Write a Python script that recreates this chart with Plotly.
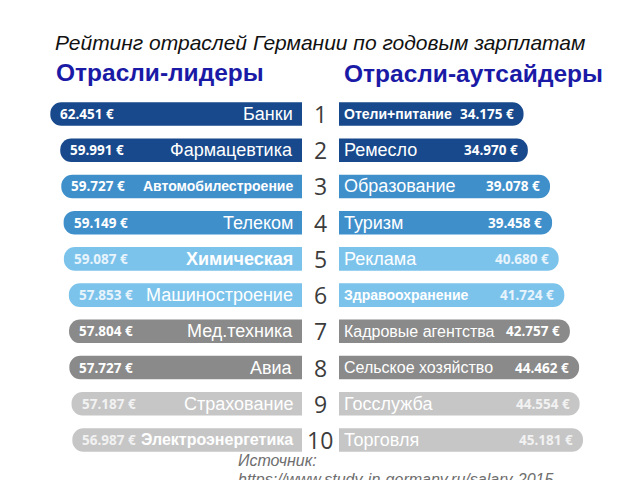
import plotly.graph_objects as go

# ---------------- data ----------------
ranks = ["1", "2", "3", "4", "5", "6", "7", "8", "9", "10"]
leader_names = ["Банки", "Фармацевтика", "Автомобилестроение", "Телеком", "Химическая",
                "Машиностроение", "Мед.техника", "Авиа", "Страхование", "Электроэнергетика"]
leader_values = [62451, 59991, 59727, 59149, 59087, 57853, 57804, 57727, 57187, 56987]
outsider_names = ["Отели+питание", "Ремесло", "Образование", "Туризм", "Реклама",
                  "Здравоохранение", "Кадровые агентства", "Сельское хозяйство", "Госслужба", "Торговля"]
outsider_values = [34175, 34970, 39078, 39458, 40680, 41724, 42757, 44462, 44554, 45181]

title_text = "Рейтинг отраслей Германии по годовым зарплатам"
left_header = "Отрасли-лидеры"
right_header = "Отрасли-аутсайдеры"
source_lines = ["Источник:", "https://www.study-in-germany.ru/salary-2015"]

# ---------------- styles ----------------
row_colors = ["#17498c", "#17498c", "#3f8fcb", "#3f8fcb", "#7cc3ec",
              "#7cc3ec", "#8a8a8a", "#8a8a8a", "#c6c6c6", "#c6c6c6"]
value_colors = ["white"] * 4 + ["#e8f4fc"] * 2 + ["white"] * 2 + ["#f2f2f2"] * 2
left_bold = [False, False, True, False, True, False, False, False, False, True]
left_size = [18, 18, 14, 18, 18, 18, 18, 18, 18, 16]
right_bold = [True, False, False, False, False, True, False, False, False, False]
right_size = [14, 18, 18, 18, 18, 14, 16, 16, 18, 18]

W, H = 640, 480
left_zero_px = 302
left_scale = 0.00403     # px per euro
right_zero_px = 339
right_scale = 0.0054

fmt = lambda v: f"{v:,}".replace(",", ".") + " €"

fig = go.Figure()
fig.add_trace(go.Bar(
    y=ranks, x=leader_values, orientation="h", xaxis="x", yaxis="y",
    marker=dict(color=row_colors, line=dict(width=0)), hoverinfo="skip", showlegend=False))
fig.add_trace(go.Bar(
    y=ranks, x=outsider_values, orientation="h", xaxis="x2", yaxis="y",
    marker=dict(color=row_colors, line=dict(width=0)), hoverinfo="skip", showlegend=False))

ann = []
for i, r in enumerate(ranks):
    # category axis: annotation positions are given as the category index
    ann.append(dict(x=leader_values[i], y=i, xref="x", yref="y", text=fmt(leader_values[i]),
                    xanchor="left", yanchor="middle", xshift=8, showarrow=False,
                    font=dict(family="Open Sans", size=13.5, color=value_colors[i], weight="bold")))
    ann.append(dict(x=0, y=i, xref="x", yref="y", text=leader_names[i],
                    xanchor="right", yanchor="middle", xshift=-7, showarrow=False,
                    font=dict(family="Liberation Sans", size=left_size[i], color="white",
                              weight="bold" if left_bold[i] else "normal")))
    ann.append(dict(x=0, y=i, xref="x2", yref="y", text=outsider_names[i],
                    xanchor="left", yanchor="middle", xshift=3, showarrow=False,
                    font=dict(family="Liberation Sans", size=right_size[i], color="white",
                              weight="bold" if right_bold[i] else "normal")))
    ann.append(dict(x=outsider_values[i], y=i, xref="x2", yref="y", text=fmt(outsider_values[i]),
                    xanchor="right", yanchor="middle", xshift=-8, showarrow=False,
                    font=dict(family="Open Sans", size=13.5, color=value_colors[i], weight="bold")))
    ann.append(dict(x=320 / W, y=i, xref="paper", yref="y", text=r,
                    xanchor="center", yanchor="middle", showarrow=False,
                    font=dict(family="Open Sans", size=23, color="#3c3c3c")))

ann.append(dict(x=320 / W, y=1 - 42 / H, xref="paper", yref="paper", text=title_text,
                xanchor="center", yanchor="middle", showarrow=False,
                font=dict(family="Liberation Sans", size=21, color="#111111", style="italic")))
ann.append(dict(x=54 / W, y=1 - 72 / H, xref="paper", yref="paper", text=left_header,
                xanchor="left", yanchor="middle", showarrow=False,
                font=dict(family="Liberation Sans", size=24.5, color="#1a1aa6", weight="bold")))
ann.append(dict(x=342 / W, y=1 - 73 / H, xref="paper", yref="paper", text=right_header,
                xanchor="left", yanchor="middle", showarrow=False,
                font=dict(family="Liberation Sans", size=24.5, color="#1a1aa6", weight="bold")))
ann.append(dict(x=236 / W, y=1 - 460 / H, xref="paper", yref="paper", text=source_lines[0],
                xanchor="left", yanchor="middle", showarrow=False,
                font=dict(family="Liberation Sans", size=16, color="#6e6e6e", style="italic")))
ann.append(dict(x=236 / W, y=1 - 479 / H, xref="paper", yref="paper", text=source_lines[1],
                xanchor="left", yanchor="middle", showarrow=False,
                font=dict(family="Liberation Sans", size=16, color="#6e6e6e", style="italic")))

band = 36.2
top_band = 114 - band / 2
bot_band = 440 + band / 2

fig.update_layout(
    width=W, height=H, margin=dict(l=0, r=0, t=0, b=0),
    paper_bgcolor="white", plot_bgcolor="white",
    bargap=0.35, barcornerradius=11,
    xaxis=dict(domain=[0, left_zero_px / W], range=[left_zero_px / left_scale, 0],
               visible=False, fixedrange=True),
    xaxis2=dict(domain=[right_zero_px / W, 1], range=[0, (W - right_zero_px) / right_scale],
                visible=False, fixedrange=True, anchor="y"),
    yaxis=dict(domain=[1 - bot_band / H, 1 - top_band / H], autorange="reversed",
               type="category", visible=False, fixedrange=True),
    annotations=ann,
    showlegend=False,
)

fig.write_html("out.html")
